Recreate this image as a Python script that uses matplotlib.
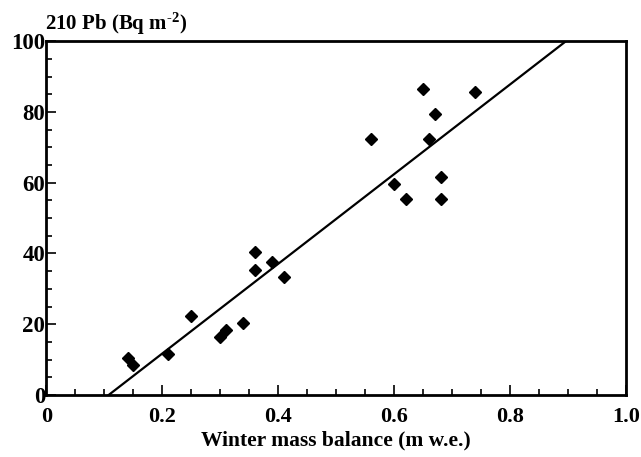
import matplotlib
matplotlib.use("Agg")
import matplotlib.pyplot as plt
import numpy as np
from matplotlib.ticker import MultipleLocator

winter_balance = [0.14, 0.15, 0.21, 0.25, 0.30, 0.31, 0.34, 0.36, 0.36, 0.39, 0.41,
                  0.56, 0.60, 0.62, 0.65, 0.66, 0.67, 0.68, 0.68, 0.74]
pb210 = [10.5, 8.5, 11.5, 22.4, 16.5, 18.5, 20.4, 40.3, 35.3, 37.5, 33.4,
         72.4, 59.5, 55.5, 86.4, 72.4, 79.5, 61.7, 55.5, 85.5]
fit_slope = 126.7
fit_intercept = -13.6
x_ticks = [0, 0.2, 0.4, 0.6, 0.8, 1.0]
x_ticklabels = ['0', '0.2', '0.4', '0.6', '0.8', '1.0']

plt.rcParams['font.family'] = ['Liberation Serif', 'DejaVu Serif']
plt.rcParams['font.weight'] = 'bold'
plt.rcParams['mathtext.fontset'] = 'custom'
plt.rcParams['mathtext.rm'] = 'Liberation Serif:bold'
plt.rcParams['mathtext.default'] = 'rm'

fig = plt.figure(figsize=(6.41, 4.57), dpi=100)
ax = fig.add_axes([0.0725, 0.1357, 0.904, 0.7743])

ax.plot(winter_balance, pb210, linestyle='none', marker='D', color='black', markersize=6)
xs = np.array([0.0, 1.0])
ax.plot(xs, fit_slope * xs + fit_intercept, color='black', linewidth=1.6)

ax.set_xlim(0, 1.0)
ax.set_ylim(0, 100)
ax.xaxis.set_minor_locator(MultipleLocator(0.05))
ax.yaxis.set_major_locator(MultipleLocator(20))
ax.yaxis.set_minor_locator(MultipleLocator(5))
ax.set_xticks(x_ticks)
ax.set_xticklabels(x_ticklabels)
ax.tick_params(which='both', direction='in', width=1.2, top=False, right=False)
ax.tick_params(which='major', length=7)
ax.tick_params(which='minor', length=4)
ax.tick_params(axis='x', which='major', labelsize=16, pad=9)
ax.tick_params(axis='y', which='major', labelsize=16.5, pad=1)
for lab in ax.get_xticklabels() + ax.get_yticklabels():
    lab.set_fontweight('bold')
for s in ax.spines.values():
    s.set_linewidth(2)

ax.set_xlabel('Winter mass balance (m w.e.)', fontsize=15.5, fontweight='bold', labelpad=2)
fig.text(0.07, 0.934, '210 Pb (Bq m$^{\\text{-}2}$)', fontsize=15, fontweight='bold',
         ha='left', va='baseline')

fig.savefig('out.png', dpi=100)
